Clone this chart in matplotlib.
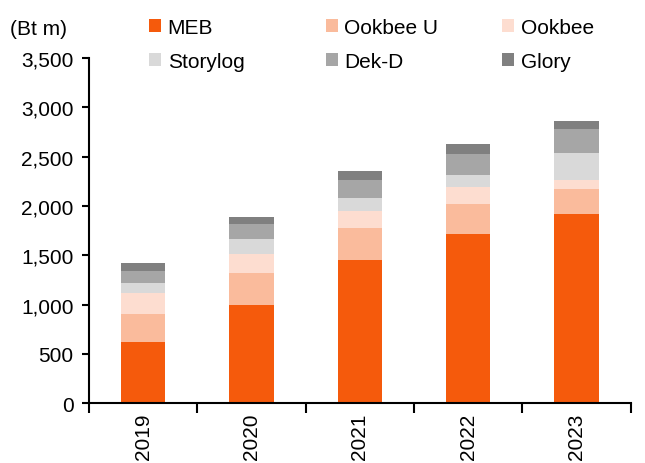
import matplotlib
matplotlib.use("Agg")
import matplotlib.pyplot as plt
import numpy as np

plt.rcParams['font.family'] = ['Liberation Sans', 'DejaVu Sans']

years = ["2019", "2020", "2021", "2022", "2023"]
meb = [615, 1000, 1450, 1715, 1920]
ookbee_u = [290, 315, 325, 300, 250]
ookbee = [215, 195, 170, 175, 95]
storylog = [100, 150, 130, 125, 275]
dek_d = [120, 155, 190, 210, 240]
glory = [80, 70, 90, 100, 85]

series = [
    ("MEB", meb, "#F55A0C"),
    ("Ookbee U", ookbee_u, "#FABB9C"),
    ("Ookbee", ookbee, "#FDDDD0"),
    ("Storylog", storylog, "#D9D9D9"),
    ("Dek-D", dek_d, "#A6A6A6"),
    ("Glory", glory, "#808080"),
]

fig = plt.figure(figsize=(6.45, 4.64), dpi=100)
ax = fig.add_axes([0.138, 0.129, 0.840, 0.744])

x = np.arange(len(years))
bottom = np.zeros(len(years))
handles = []
for name, vals, color in series:
    h = ax.bar(x, vals, width=0.41, bottom=bottom, color=color, label=name, zorder=2)
    handles.append(h)
    bottom += np.array(vals)

ax.set_xlim(-0.5, len(years) - 0.5)
ax.set_ylim(0, 3500)
ax.set_yticks(np.arange(0, 3501, 500))
ax.set_yticklabels([f"{v:,}" for v in range(0, 3501, 500)], fontsize=15)

# ticks between categories, labels at bar centres
ax.set_xticks(np.arange(-0.5, len(years), 1.0))
ax.set_xticklabels([])
ax.set_xticks(x, minor=True)
ax.set_xticklabels(years, minor=True, rotation=90, fontsize=15)
ax.tick_params(axis='x', which='major', direction='out', length=7, width=1.5)
ax.tick_params(axis='x', which='minor', length=0, pad=7)
ax.tick_params(axis='y', direction='out', length=5, width=1.5, pad=6)

for side in ['top', 'right']:
    ax.spines[side].set_visible(False)
ax.spines['left'].set_linewidth(1.5)
ax.spines['bottom'].set_linewidth(1.5)

fig.text(0.016, 0.937, "(Bt m)", fontsize=15, va='center', ha='left')

# legend: 3 fixed-width columns, filled row by row
col_x = [0.231, 0.505, 0.778]
for c, xpos in enumerate(col_x):
    idx = [c, c + 3]
    leg = fig.legend([handles[i] for i in idx], [series[i][0] for i in idx],
                     loc='upper left', bbox_to_anchor=(xpos, 0.960), frameon=False,
                     fontsize=15, handlelength=0.6, handleheight=0.6,
                     handletextpad=0.3, labelspacing=0.72,
                     borderpad=0, borderaxespad=0)

fig.savefig("out.png", dpi=100)
